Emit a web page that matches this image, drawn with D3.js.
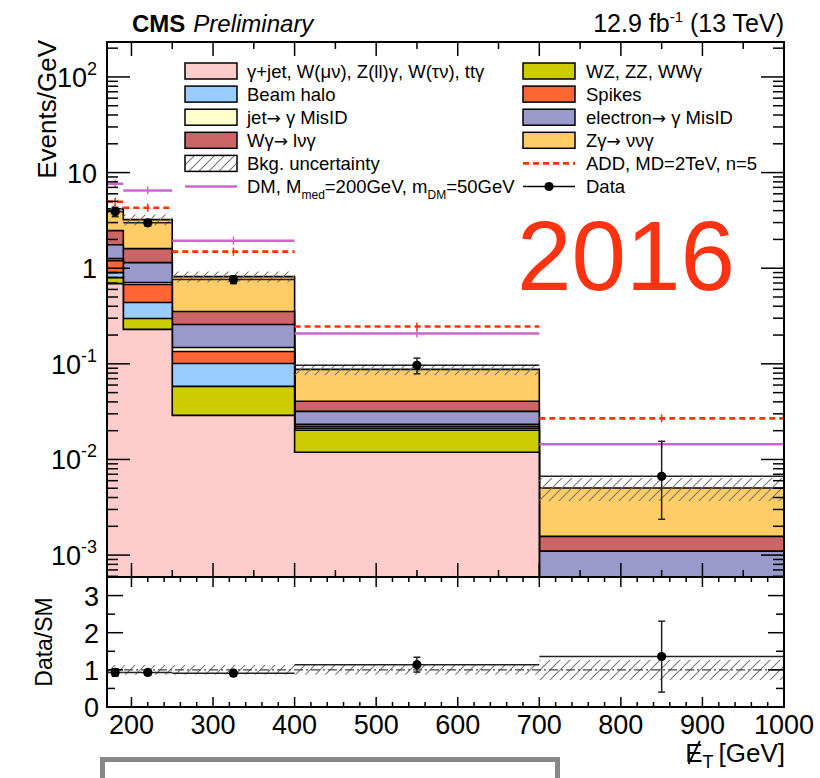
<!DOCTYPE html>
<html>
<head>
<meta charset="utf-8">
<script src="https://cdn.jsdelivr.net/npm/d3@7"></script>
<style>
  body { margin: 0; background: #fff; }
  svg { display: block; font-family: "Liberation Sans", Arial, Helvetica, sans-serif; }
  .arrow { font-family: "DejaVu Sans", sans-serif; }
</style>
</head>
<body>
<svg id="chart" width="820" height="778"></svg>
<script>
// Missing transverse momentum bins [GeV]
const binEdges = [170, 190, 250, 400, 700, 1000];

// Background yields, events per GeV, stacked bottom to top
const gjetWlnuZllg = [0.690, 0.229, 0.0289, 0.01189, 0.0002];
const wzZzWwg      = [0.108, 0.069, 0.0292, 0.00829, 0.0001];
const beamHalo     = [0.102, 0.140, 0.0428, 0.0010, 0.00003];
const spikes       = [0.300, 0.237, 0.0337, 0.00103, 0.00003];
const jetMisID     = [0.059, 0.034, 0.0137, 0.00109, 0.00002];
const eleMisID     = [0.503, 0.435, 0.1095, 0.00855, 0.00072];
const wgLnug       = [0.708, 0.460, 0.0946, 0.0087, 0.00047];
const zgNunug      = [1.700, 1.617, 0.4646, 0.04695, 0.00346];

// Relative background uncertainty per bin
const bkgUnc = [0.13, 0.13, 0.13, 0.13, 0.27];

// Signal hypotheses, events per GeV
const dmSignal  = [7.64, 6.50, 1.94, 0.2075, 0.01442];
const addSignal = [4.96, 4.29, 1.49, 0.2455, 0.0269];

// Observed data, events per GeV
const dataVal   = [3.90, 2.983, 0.760, 0.0967, 0.00667];
const dataErrLo = [0.44, 0.22, 0.071, 0.018, 0.0043];
const dataErrHi = [0.44, 0.22, 0.071, 0.018, 0.0088];

// Data / SM ratio
const ratioVal   = [0.93, 0.93, 0.91, 1.14, 1.36];
const ratioErrLo = [0.10, 0.07, 0.08, 0.20, 0.96];
const ratioErrHi = [0.10, 0.07, 0.08, 0.20, 0.95];

// Axis tick labels
const xTickVals  = [200, 300, 400, 500, 600, 700, 800, 900, 1000];
const yDecades   = [-3, -2, -1, 0, 1, 2];
const ratioTicks = [0, 1, 2, 3];

const svg = d3.select("#chart");
const L = 107, R = 784, T = 42, B = 577, RB = 707;

const x  = d3.scaleLinear().domain([170, 1000]).range([L, R]);
const y  = d3.scaleLog().domain([5.9e-4, 232]).range([B, T]).clamp(true);
const yr = d3.scaleLinear().domain([0, 3.5]).range([RB, B]);
const ys = v => y(Math.max(v, 1e-9));

const defs = svg.append("defs");
defs.append("pattern").attr("id", "hatch").attr("patternUnits", "userSpaceOnUse")
  .attr("width", 10).attr("height", 10)
  .append("path").attr("d", "M-2,12 L12,-2 M-2,2 L2,-2 M8,12 L12,8")
  .attr("stroke", "#777").attr("stroke-width", 1.1);
defs.append("clipPath").attr("id", "mainClip").append("rect")
  .attr("x", L).attr("y", T).attr("width", R - L).attr("height", B - T);
defs.append("clipPath").attr("id", "ratioClip").append("rect")
  .attr("x", L).attr("y", B).attr("width", R - L).attr("height", RB - B);

// Stack table
const processes = [
  { key: "gjet", vals: gjetWlnuZllg, color: "#ffcccc" },
  { key: "vv",   vals: wzZzWwg,      color: "#cccc00" },
  { key: "halo", vals: beamHalo,     color: "#99ccff" },
  { key: "spk",  vals: spikes,       color: "#ff6633" },
  { key: "jet",  vals: jetMisID,     color: "#ffffcc" },
  { key: "ele",  vals: eleMisID,     color: "#9999cc" },
  { key: "wg",   vals: wgLnug,       color: "#cc6666" },
  { key: "zg",   vals: zgNunug,      color: "#ffcc66" }
];
const bins = binEdges.slice(0, -1).map((lo, i) => {
  const row = { lo, hi: binEdges[i + 1] };
  processes.forEach(p => row[p.key] = p.vals[i]);
  return row;
});
const stacked = d3.stack().keys(processes.map(p => p.key))(bins);
const totals = bins.map((b, i) => stacked[stacked.length - 1][i][1]);

// Each cumulative histogram is drawn as a filled step contour, top one first
const main = svg.append("g").attr("clip-path", "url(#mainClip)");
const stepPath = series => {
  const p = d3.path();
  p.moveTo(x(binEdges[0]), B + 2);
  series.forEach(d => {
    p.lineTo(x(d.data.lo), ys(d[1]));
    p.lineTo(x(d.data.hi), ys(d[1]));
  });
  p.lineTo(x(binEdges[binEdges.length - 1]), B + 2);
  p.closePath();
  return p.toString();
};
stacked.slice().reverse().forEach(series => {
  main.append("path").attr("d", stepPath(series))
    .attr("fill", processes[series.index].color)
    .attr("stroke", "#000").attr("stroke-width", 1.6)
    .attr("stroke-linejoin", "miter");
});

// Background uncertainty band
main.append("g").selectAll("rect").data(bins).join("rect")
  .attr("x", d => x(d.lo)).attr("width", d => x(d.hi) - x(d.lo))
  .attr("y", (d, i) => y(totals[i] * (1 + bkgUnc[i])))
  .attr("height", (d, i) => y(totals[i] * (1 - bkgUnc[i])) - y(totals[i] * (1 + bkgUnc[i])))
  .attr("fill", "url(#hatch)");

// Signal lines
function signalLines(vals, color, dash) {
  const g = main.append("g");
  bins.forEach((b, i) => {
    g.append("line").attr("x1", x(b.lo)).attr("x2", x(b.hi))
      .attr("y1", y(vals[i])).attr("y2", y(vals[i]))
      .attr("stroke", color).attr("stroke-width", 2.6)
      .attr("stroke-dasharray", dash);
    const cx = x((b.lo + b.hi) / 2);
    g.append("line").attr("x1", cx).attr("x2", cx)
      .attr("y1", y(vals[i]) - 4).attr("y2", y(vals[i]) + 4)
      .attr("stroke", color).attr("stroke-width", 1.5);
  });
}
signalLines(dmSignal, "#cc66cc", null);
signalLines(addSignal, "#ff3300", "6,4");

// Data points
function drawData(g, sc, vals, lo, hi) {
  bins.forEach((b, i) => {
    const cx = x((b.lo + b.hi) / 2), cy = sc(vals[i]);
    g.append("line").attr("x1", x(b.lo)).attr("x2", x(b.hi)).attr("y1", cy).attr("y2", cy)
      .attr("stroke", "#222").attr("stroke-width", 1.5);
    const yt = sc(vals[i] + hi[i]), yb = sc(Math.max(vals[i] - lo[i], 1e-9));
    g.append("line").attr("x1", cx).attr("x2", cx).attr("y1", yt).attr("y2", yb)
      .attr("stroke", "#222").attr("stroke-width", 1.5);
    [yt, yb].forEach(yy => g.append("line").attr("x1", cx - 3.5).attr("x2", cx + 3.5)
      .attr("y1", yy).attr("y2", yy).attr("stroke", "#222").attr("stroke-width", 1.5));
    g.append("circle").attr("cx", cx).attr("cy", cy).attr("r", 4.6).attr("fill", "#000");
  });
}
drawData(main.append("g"), y, dataVal, dataErrLo, dataErrHi);

// Ratio panel
const rp = svg.append("g").attr("clip-path", "url(#ratioClip)");
rp.append("g").selectAll("rect").data(bins).join("rect")
  .attr("x", d => x(d.lo)).attr("width", d => x(d.hi) - x(d.lo))
  .attr("y", (d, i) => yr(1 + bkgUnc[i]))
  .attr("height", (d, i) => yr(1 - bkgUnc[i]) - yr(1 + bkgUnc[i]))
  .attr("fill", "url(#hatch)");
rp.append("line").attr("x1", L).attr("x2", R).attr("y1", yr(1)).attr("y2", yr(1))
  .attr("stroke", "#444").attr("stroke-width", 1.3).attr("stroke-dasharray", "9,3,2,3");
drawData(rp.append("g"), yr, ratioVal, ratioErrLo, ratioErrHi);

// Frames
[[T, B], [B, RB]].forEach(([t, b]) => svg.append("rect")
  .attr("x", L).attr("y", t).attr("width", R - L).attr("height", b - t)
  .attr("fill", "none").attr("stroke", "#000").attr("stroke-width", 2));

// Ticks
const tk = svg.append("g").attr("stroke", "#000").attr("stroke-width", 1.5);
function xTicks(top, bot, majLen, minStep, minLen) {
  d3.range(200, 1001, minStep).forEach(v => {
    const len = v % 100 === 0 ? majLen : minLen;
    tk.append("line").attr("x1", x(v)).attr("x2", x(v)).attr("y1", bot).attr("y2", bot - len);
    tk.append("line").attr("x1", x(v)).attr("x2", x(v)).attr("y1", top).attr("y2", top + len);
  });
}
xTicks(T, B, 14, 50, 7);
xTicks(B, RB, 10, 20, 5);
[-4].concat(yDecades).forEach(e => {
  for (let k = 1; k <= 9; k++) {
    const yy = y.copy().clamp(false)(k * Math.pow(10, e));
    if (yy < T || yy > B) continue;
    const len = k === 1 ? 23 : 11;
    tk.append("line").attr("x1", L).attr("x2", L + len).attr("y1", yy).attr("y2", yy);
    tk.append("line").attr("x1", R).attr("x2", R - len).attr("y1", yy).attr("y2", yy);
  }
});
d3.range(0.5, 3.5, 0.5).forEach(v => {
  const len = v % 1 === 0 ? 16 : 8;
  tk.append("line").attr("x1", L).attr("x2", L + len).attr("y1", yr(v)).attr("y2", yr(v));
  tk.append("line").attr("x1", R).attr("x2", R - len).attr("y1", yr(v)).attr("y2", yr(v));
});

// Tick labels
const fs = 27;
yDecades.forEach(e => {
  const t = svg.append("text").attr("x", 97).attr("y", y(Math.pow(10, e)) + 10)
    .attr("text-anchor", "end").attr("font-size", fs);
  if (e === 0) t.text("1");
  else if (e === 1) t.text("10");
  else {
    t.append("tspan").text("10");
    t.append("tspan").attr("dy", -12).attr("font-size", 18).text(String(e));
  }
});
ratioTicks.forEach(v => svg.append("text").attr("x", 99).attr("y", yr(v) + 10)
  .attr("text-anchor", "end").attr("font-size", fs).text(v));
xTickVals.forEach(v => svg.append("text").attr("x", x(v)).attr("y", 734)
  .attr("text-anchor", "middle").attr("font-size", fs).text(v));

// Axis titles
svg.append("text").attr("transform", "translate(56,40) rotate(-90)")
  .attr("text-anchor", "end").attr("font-size", 26).text("Events/GeV");
svg.append("text").attr("transform", "translate(52,642) rotate(-90)")
  .attr("text-anchor", "middle").attr("font-size", 23).text("Data/SM");
const xt = svg.append("text").attr("x", 785).attr("y", 762).attr("text-anchor", "end").attr("font-size", 26);
xt.append("tspan").text("E");
xt.append("tspan").attr("dy", 6).attr("font-size", 18).text("T");
xt.append("tspan").attr("dy", -6).attr("dx", 5).text("[GeV]");
{
  const n = xt.node();
  const p = n.getStartPositionOfChar(0);
  const w = n.getSubStringLength(0, 1);
  svg.append("line").attr("x1", p.x + 0.2 * w).attr("y1", 764)
    .attr("x2", p.x + 0.85 * w).attr("y2", 741)
    .attr("stroke", "#000").attr("stroke-width", 1.8);
}

// Header
const hd = svg.append("text").attr("x", 132).attr("y", 32).attr("font-size", 24);
hd.append("tspan").attr("font-weight", "bold").text("CMS");
hd.append("tspan").attr("font-style", "italic").attr("dx", 8).text("Preliminary");
const lumi = svg.append("text").attr("x", 784).attr("y", 32).attr("text-anchor", "end").attr("font-size", 25);
lumi.append("tspan").text("12.9 fb");
lumi.append("tspan").attr("dy", -10).attr("font-size", 15).text("-1");
lumi.append("tspan").attr("dy", 10).text(" (13 TeV)");

svg.append("text").attr("x", 517).attr("y", 290).attr("font-size", 98)
  .attr("fill", "#ff3311").text("2016");

// Legend
const lg = svg.append("g").attr("font-size", 18.5);
const rowY = i => 71 + 23.1 * i;
const leftEntries = [
  { type: "box", fill: "#ffcccc", label: ["γ+jet, W(μν), Z(ll)γ, W(τν), ttγ"] },
  { type: "box", fill: "#99ccff", label: ["Beam halo"] },
  { type: "box", fill: "#ffffcc", label: ["jet", "→", " γ MisID"] },
  { type: "box", fill: "#cc6666", label: ["Wγ", "→", " lνγ"] },
  { type: "box", fill: "url(#hatch)", label: ["Bkg. uncertainty"] },
  { type: "dm", label: null }
];
const rightEntries = [
  { type: "box", fill: "#cccc00", label: ["WZ, ZZ, WWγ"] },
  { type: "box", fill: "#ff6633", label: ["Spikes"] },
  { type: "box", fill: "#9999cc", label: ["electron", "→", " γ MisID"] },
  { type: "box", fill: "#ffcc66", label: ["Zγ", "→", " ννγ"] },
  { type: "add", label: ["ADD, MD=2TeV, n=5"] },
  { type: "data", label: ["Data"] }
];
function legendCol(entries, bx, tx) {
  entries.forEach((e, i) => {
    const cy = rowY(i);
    if (e.type === "box") {
      lg.append("rect").attr("x", bx).attr("y", cy - 8).attr("width", 52).attr("height", 16)
        .attr("fill", e.fill).attr("stroke", "#000").attr("stroke-width", 1.5);
    } else if (e.type === "dm") {
      lg.append("line").attr("x1", bx).attr("x2", bx + 52).attr("y1", cy).attr("y2", cy)
        .attr("stroke", "#cc66cc").attr("stroke-width", 2.6);
    } else if (e.type === "add") {
      lg.append("line").attr("x1", bx).attr("x2", bx + 52).attr("y1", cy).attr("y2", cy)
        .attr("stroke", "#ff3300").attr("stroke-width", 2.6).attr("stroke-dasharray", "6,4");
    } else if (e.type === "data") {
      lg.append("line").attr("x1", bx).attr("x2", bx + 52).attr("y1", cy).attr("y2", cy)
        .attr("stroke", "#000").attr("stroke-width", 1.5);
      lg.append("circle").attr("cx", bx + 26).attr("cy", cy).attr("r", 4.6).attr("fill", "#000");
    }
    if (e.label) {
      const t = lg.append("text").attr("x", tx).attr("y", cy + 6.5);
      e.label.forEach(part => {
        const s = t.append("tspan").text(part);
        if (part === "→") s.attr("class", "arrow").attr("font-size", 17);
      });
    }
  });
}
legendCol(leftEntries, 185, 247);
legendCol(rightEntries, 523, 586);
{
  const t = lg.append("text").attr("x", 247).attr("y", rowY(5) + 6.5);
  t.append("tspan").text("DM, M");
  t.append("tspan").attr("dy", 6).attr("font-size", 12).text("med");
  t.append("tspan").attr("dy", -6).text("=200GeV, m");
  t.append("tspan").attr("dy", 6).attr("font-size", 12).text("DM");
  t.append("tspan").attr("dy", -6).text("=50GeV");
}

// Grey box below the axis title
svg.append("rect").attr("x", 102.5).attr("y", 759.5).attr("width", 455).attr("height", 40)
  .attr("fill", "#fff").attr("stroke", "#888").attr("stroke-width", 5);
</script>
</body>
</html>
